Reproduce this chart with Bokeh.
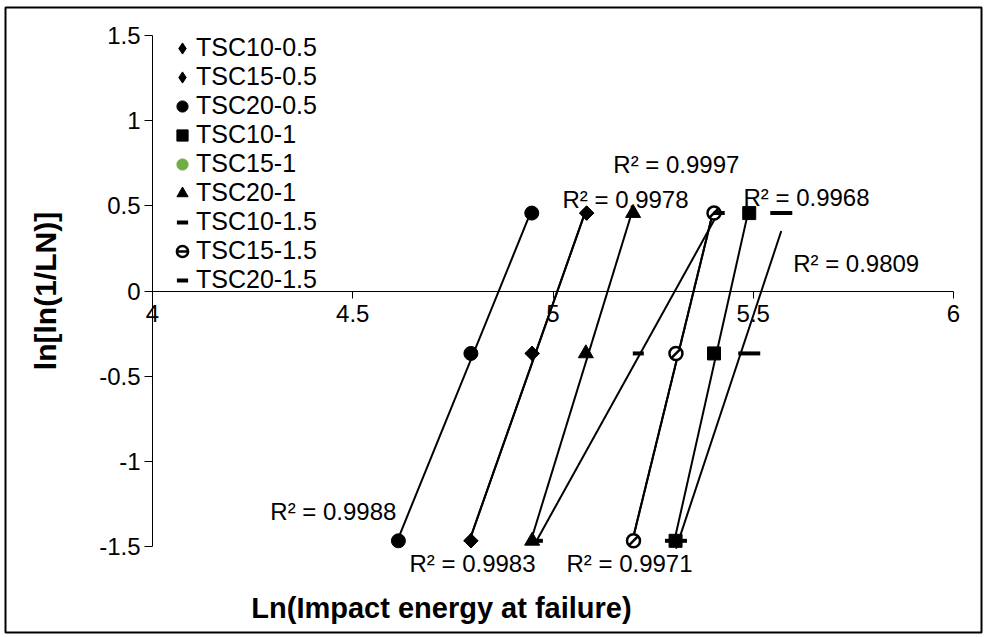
import math
import numpy as np
from bokeh.plotting import figure
from bokeh.models import (Range1d, FixedTicker, NumeralTickFormatter, Legend, LegendItem,
                          Label, BoxAnnotation)
from bokeh.embed import file_html
from bokeh.resources import INLINE

# ---------------- data ----------------
# ln[ln(1/LN)] for the three failure ranks (median ranks, n = 3)
y_rank = [-1.4666, -0.3665, 0.4574]

series_names = ["TSC10-0.5", "TSC15-0.5", "TSC20-0.5", "TSC10-1", "TSC15-1",
                "TSC20-1", "TSC10-1.5", "TSC15-1.5", "TSC20-1.5"]
# Ln(Impact energy at failure) per series
tsc10_05 = [4.795, 4.948, 5.084]
tsc15_05 = [4.795, 4.948, 5.084]
tsc20_05 = [4.614, 4.795, 4.947]
tsc10_1 = [5.306, 5.402, 5.490]
tsc15_1 = [5.201, 5.307, 5.402]   # hidden under the TSC15-1.5 markers
tsc20_1 = [4.948, 5.082, 5.200]
tsc10_15 = [5.307, 5.490, 5.570]
tsc15_15 = [5.201, 5.307, 5.402]
tsc20_15 = [4.961, 5.213, 5.415]
series_x = [tsc10_05, tsc15_05, tsc20_05, tsc10_1, tsc15_1,
            tsc20_1, tsc10_15, tsc15_15, tsc20_15]

r2_texts = ["R² = 0.9997", "R² = 0.9978", "R² = 0.9968", "R² = 0.9809",
            "R² = 0.9988", "R² = 0.9983", "R² = 0.9971"]

x_ticks = [4, 4.5, 5, 5.5, 6]
y_ticks = [-1.5, -1, -0.5, 0, 0.5, 1, 1.5]
x_lim = (4, 6)
y_lim = (-1.5, 1.5)

# ---------------- layout / style ----------------
FONT = "Liberation Sans"
W, H = 984, 637
AX_L, AX_R, AX_T, AX_B = 152, 953, 35, 546   # pixel box of the axes
sx = (x_lim[1] - x_lim[0]) / (AX_R - AX_L)
sy = (y_lim[1] - y_lim[0]) / (AX_B - AX_T)
x_range = Range1d(x_lim[0] - AX_L * sx, x_lim[1] + (W - AX_R) * sx)
y_range = Range1d(y_lim[0] - (H - AX_B) * sy, y_lim[1] + AX_T * sy)

r2_anchor = [(5.308, 0.744, "center"), (5.181, 0.539, "center"), (5.633, 0.550, "center"),
             (5.757, 0.163, "center"), (4.609, -1.294, "right"), (4.799, -1.599, "center"),
             (5.191, -1.599, "center")]

DIAMOND_LEG = dict(marker="diamond", size=14, fill_color="black", line_color="black")
DIAMOND = dict(marker="square", size=10, angle=math.pi / 4, fill_color="black", line_color="black")
# (style, shown in legend)
styles = [
    [(DIAMOND_LEG, True), (DIAMOND, False)],
    [(DIAMOND_LEG, True), (DIAMOND, False)],
    [(dict(marker="circle", size=14, fill_color="black", line_color="black"), True)],
    [(dict(marker="square", size=13, fill_color="black", line_color="black"), True)],
    [(dict(marker="circle", size=6, fill_color="#70AD47", line_color="#70AD47"), True)],
    [(dict(marker="triangle", size=15, fill_color="black", line_color="black"), True)],
    [(dict(marker="dash", size=22, line_color="black", line_width=4), True)],
    [(dict(marker="circle", size=13, fill_color="white", line_color="black", line_width=2.5), True),
     (dict(marker="dash", size=13, angle=math.pi / 4, line_color="black", line_width=2.5), True)],
    [(dict(marker="dash", size=11, line_color="black", line_width=4), True)],
]

p = figure(width=W, height=H, output_backend="svg", toolbar_location=None, title=None,
           x_range=x_range, y_range=y_range,
           min_border_left=0, min_border_right=0, min_border_top=0, min_border_bottom=0)
p.grid.visible = False
p.outline_line_color = None
p.background_fill_color = "white"
p.border_fill_color = "white"

# trendlines (least-squares fit of each series, drawn over its x range)
for xs in series_x:
    k, b = np.polyfit(xs, y_rank, 1)
    x0, x1 = min(xs), max(xs)
    p.line([x0, x1], [k * x0 + b, k * x1 + b], line_color="black", line_width=2)

items = []
for name, xs, st in zip(series_names, series_x, styles):
    rs = []
    for s, in_leg in st:
        r = p.scatter(x=xs, y=y_rank, **s)
        if in_leg:
            rs.append(r)
    items.append(LegendItem(label=name, renderers=rs))

legend = Legend(items=items, location=(168, 343), padding=0, margin=0, spacing=0,
                glyph_width=28, glyph_height=28, label_height=28, label_standoff=0,
                label_text_font=FONT, label_text_font_size="25px", label_text_color="black",
                background_fill_alpha=0, border_line_color=None)
p.add_layout(legend)

for t, (ax, ay, al) in zip(r2_texts, r2_anchor):
    p.add_layout(Label(x=ax, y=ay, text=t, text_align=al, text_baseline="middle",
                       text_font=FONT, text_font_size="24px", text_color="black"))

xa = p.xaxis[0]
xa.fixed_location = 0
xa.bounds = x_lim
xa.ticker = FixedTicker(ticks=x_ticks)
xa.formatter = NumeralTickFormatter(format="0.[0]")
xa.major_tick_in = 0
xa.major_tick_out = 7
xa.minor_tick_in = 0
xa.minor_tick_out = 0
xa.axis_line_color = "black"
xa.major_tick_line_color = "black"
xa.major_label_text_font = FONT
xa.major_label_text_font_size = "24px"
xa.major_label_text_color = "black"
xa.major_label_standoff = 7

ya = p.yaxis[0]
ya.fixed_location = x_lim[0]
ya.bounds = y_lim
ya.ticker = FixedTicker(ticks=y_ticks)
ya.formatter = NumeralTickFormatter(format="0.[0]")
ya.major_tick_in = 0
ya.major_tick_out = 8
ya.minor_tick_in = 0
ya.minor_tick_out = 0
ya.axis_line_color = "black"
ya.major_tick_line_color = "black"
ya.major_label_text_font = FONT
ya.major_label_text_font_size = "24px"
ya.major_label_text_color = "black"
ya.major_label_standoff = 4
ya.axis_label = "ln[ln(1/LN)]"
ya.axis_label_text_font = FONT
ya.axis_label_text_font_style = "bold"
ya.axis_label_text_font_size = "30px"
ya.axis_label_text_color = "black"
ya.axis_label_standoff = 34

p.add_layout(Label(x=441, y=H - 607, x_units="screen", y_units="screen",
                   text="Ln(Impact energy at failure)", text_align="center",
                   text_baseline="middle", text_font=FONT, text_font_style="bold",
                   text_font_size="29px", text_color="black"))

p.add_layout(BoxAnnotation(left=5, right=W - 3, bottom=5, top=H - 7,
                           left_units="screen", right_units="screen",
                           bottom_units="screen", top_units="screen",
                           fill_alpha=0, line_color="black", line_alpha=1, line_width=2))

open("out.html", "w").write(file_html(p, INLINE))
